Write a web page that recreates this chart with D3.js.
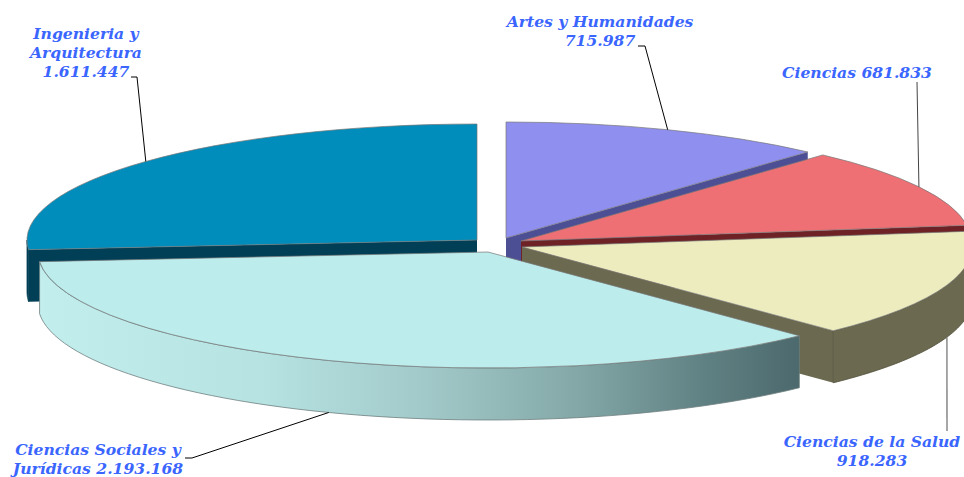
<!DOCTYPE html>
<html>
<head>
<meta charset="utf-8">
<script src="https://cdn.jsdelivr.net/npm/d3@7"></script>
<style>
    html, body { margin: 0; background: #fff; }
    svg { display: block; }
    .label { font-family: "DejaVu Serif", serif; font-weight: bold; font-style: italic; font-size: 15.6px; fill: #3a66ff; }
</style>
</head>
<body>
<div id="chart-area"></div>
<script>
var categories = ["Artes y Humanidades", "Ciencias", "Ciencias de la Salud", "Ciencias Sociales y Jurídicas", "Ingenieria y Arquitectura"];
var values = [715987, 681833, 918283, 2193168, 1611447];
var labelLines = [
    ["Artes y Humanidades", "#"],
    ["Ciencias #"],
    ["Ciencias de la Salud", "#"],
    ["Ciencias Sociales y", "Jurídicas #"],
    ["Ingenieria y", "Arquitectura", "#"]
];

var topColors = ["#8f8ff0", "#ee7074", "#ececbf", "#bdecec", "#008dbb"];
var wallColors = ["#4d4f94", "#6e2226", "#6b694f", "url(#socialesWall)", "#003f56"];

var width = 964, height = 477;
var rx = 450, ry = 116, depth = 52;

// each slice is pulled away from the middle by hand
var centers = [[506, 238], [521, 241], [522, 247], [488, 252], [477, 240]];
// where the label text goes and where the leader line starts
var labelPos = [[600, 27], [857, 78], [872, 447], [98, 455], [86, 39]];
var elbows = [[[638, 46], [645, 46]], [[917, 82]], [[947, 431]], [[185, 458], [192, 458]], [[131, 77], [137, 77]]];
var lineHeight = 19;

var svg = d3.select("#chart-area")
    .append("svg")
    .attr("width", width)
    .attr("height", height);

var grad = svg.append("defs").append("linearGradient")
    .attr("id", "socialesWall")
    .attr("gradientUnits", "userSpaceOnUse")
    .attr("x1", 38).attr("x2", 800).attr("y1", 0).attr("y2", 0);

[[0, "#c2eeee"], [0.3, "#b6e2e2"], [0.5, "#a3caca"], [0.7, "#85a9a9"], [0.88, "#5f8082"], [1, "#4c696d"]].forEach(s => {
    grad.append("stop").attr("offset", s[0]).attr("stop-color", s[1]);
});

var pie = d3.pie().sort(null)(values);
var arc = d3.arc().innerRadius(0).outerRadius(rx);
var esFormat = d3.formatLocale({ decimal: ",", thousands: ".", grouping: [3], currency: ["", ""] }).format(",d");

function rim(i, a, dy) {
    return [centers[i][0] + rx * Math.sin(a), centers[i][1] - ry * Math.cos(a) + (dy || 0)];
}

var line = d3.line();

// flat face hanging under the straight edge of a slice
function cutFace(i, a) {
    var c = centers[i], p = rim(i, a);
    return line([c, p, [p[0], p[1] + depth], [c[0], c[1] + depth]]) + "Z";
}

// curved side under the rim, only the part that faces the viewer
function outerWall(i, a0, a1) {
    var steps = d3.range(0, 61).map(k => a0 + (a1 - a0) * k / 60);
    var upper = steps.map(a => rim(i, a));
    var lower = steps.slice().reverse().map(a => rim(i, a, depth));
    return line(upper.concat(lower)) + "Z";
}

var halfPi = Math.PI / 2, threeHalfPi = Math.PI * 1.5;

// back slices first so the front ones paint over them
[4, 0, 1, 2, 3].forEach(i => {
    var d = pie[i];
    var g = svg.append("g").attr("class", "slice");

    // cut faces that can be seen from the front
    if (d.endAngle < Math.PI) {
        g.append("path").attr("d", cutFace(i, d.endAngle)).attr("fill", wallColors[i]);
    }
    if (d.startAngle > Math.PI) {
        g.append("path").attr("d", cutFace(i, d.startAngle)).attr("fill", wallColors[i]);
    }

    var a0 = Math.max(d.startAngle, halfPi), a1 = Math.min(d.endAngle, threeHalfPi);
    if (a1 > a0) {
        g.append("path")
            .attr("d", outerWall(i, a0, a1))
            .attr("fill", wallColors[i])
            .attr("stroke", i == 3 ? "#6f7f7f" : i == 4 ? "#003f56" : "#4f4e38")
            .attr("stroke-width", 0.8);
    }

    g.append("path")
        .attr("d", arc(d))
        .attr("transform", `translate(${centers[i][0]},${centers[i][1]}) scale(1,${ry / rx})`)
        .attr("fill", topColors[i])
        .attr("stroke", "#777")
        .attr("stroke-width", 0.7)
        .attr("vector-effect", "non-scaling-stroke");
});

// leader lines end on the rim at the middle of each slice
pie.forEach((d, i) => {
    var mid = (d.startAngle + d.endAngle) / 2;
    var front = mid > halfPi && mid < threeHalfPi;
    svg.append("path")
        .attr("d", line(elbows[i].concat([rim(i, mid, front ? depth : 0)])))
        .attr("fill", "none")
        .attr("stroke", i == 2 ? "#808080" : i == 1 ? "#444" : "#000")
        .attr("stroke-width", i == 2 ? 1.4 : 1);
});

labelLines.forEach((lines, i) => {
    var t = svg.append("text")
        .attr("class", "label")
        .attr("text-anchor", "middle")
        .attr("aria-label", categories[i]);
    lines.forEach((s, k) => {
        t.append("tspan")
            .attr("x", labelPos[i][0])
            .attr("y", labelPos[i][1] + k * lineHeight)
            .text(s.replace("#", esFormat(values[i])));
    });
});
</script>
</body>
</html>
